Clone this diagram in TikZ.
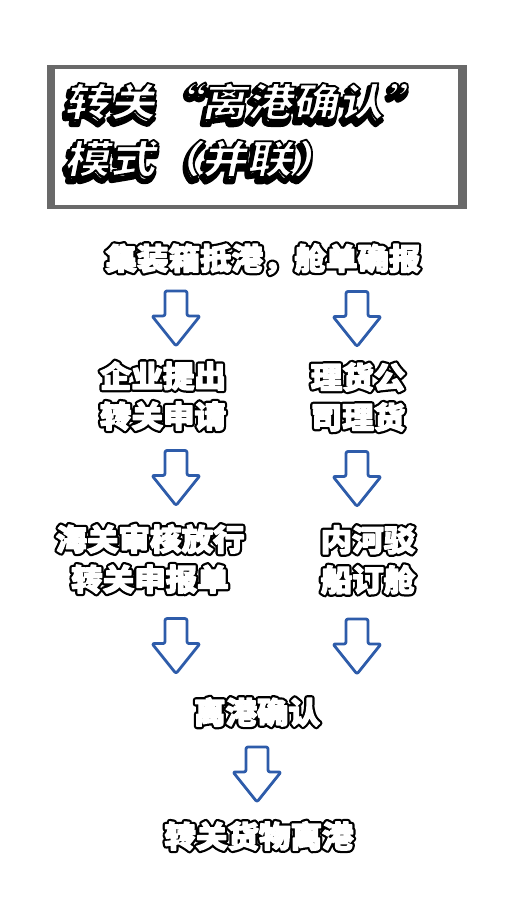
\documentclass[tikz,border=0pt]{standalone}
\usepackage{fontspec}
\usetikzlibrary{calc}
\newfontfamily\cjkbody{Noto Sans CJK SC}[FakeStretch=1.05]
\newfontfamily\cjktitle{Noto Sans CJK SC}[FakeSlant=0.2,FakeStretch=1.17]
\definecolor{arrowblue}{RGB}{46,92,170}
\definecolor{framegray}{RGB}{105,105,105}

\tikzset{
  steptext/.style={font=\cjkbody\bfseries\fontsize{30}{40}\selectfont, align=center, inner sep=0pt},
  titletext/.style={font=\cjktitle\bfseries\fontsize{39}{57}\selectfont, align=left, inner sep=0pt, anchor=west},
  arrowline/.style={draw=arrowblue, line width=2.8pt, rounded corners=2pt, line join=round},
  blockdown/.pic={\draw[arrowline] (-11,-27) -- (11,-27) -- (11,-2) -- (24,-2) -- (0,28) -- (-24,-2) -- (-11,-2) -- cycle;}
}

% glyph outlines: #1 stroke grey, #2 width, #3 render mode
\newcommand\penon[3]{\special{pdf:literal direct #1 G 1 j #2 w #3 Tr}}
\newcommand\penoff{\special{pdf:literal direct 0 Tr}}

% white letters with a black rim
\newcommand\rimnode[4]{%
  \path (#2) node[#3, text=black] {\penon{0}{5.8}{1}#4\penoff};
  \path (#2) node[#3, text=white] (#1) {\penon{1}{1.3}{2}#4\penoff};
}

% white letters with a rim and a deep shadow
\newcommand\shadownode[4]{%
  \path ([shift={(-2,4.5)}]#2) node[#3, text=black] {\penon{0}{5.5}{1}#4\penoff};
  \path (#2) node[#3, text=white] (#1) {\penon{0}{1.8}{2}#4\penoff};
}

\begin{document}
\begin{tikzpicture}[x=1pt, y=-1pt]

\fill[white] (0,0) rectangle (512,912);
\useasboundingbox (0,0) rectangle (512,912);

% Title frame
\fill[framegray] (47,65) rectangle (467,209);
\fill[white] (55,69) rectangle (458,205);

% Title
\shadownode{title}{64,130}{titletext}{转关“离港确认”\\模式（并联）}


% Columns
\coordinate (colL) at (176,0);
\coordinate (colR) at (357,0);
\coordinate (colM) at (257,0);


% Start
\rimnode{start}{263,259}{steptext}{集装箱抵港，舱单确报}

% Left branch
\rimnode{apply}{163,396}{steptext}{企业提出\\转关申请}
\rimnode{release}{150,559}{steptext}{海关审核放行\\转关申报单}

% Right branch
\rimnode{tally}{358,397}{steptext}{理货公\\司理货}
\rimnode{barge}{368,560}{steptext}{内河驳\\船订舱}

% Joined again
\rimnode{confirm}{257,712}{steptext}{离港确认}
\rimnode{depart}{259,836}{steptext}{转关货物离港}


% Blue arrows down
\path ($(colL |- start.south)!0.5!(colL |- apply.north)$) pic {blockdown};
\path ($(colR |- start.south)!0.5!(colR |- tally.north)$) pic {blockdown};

\path ($(colL |- apply.south)!0.5!(colL |- release.north)$) pic {blockdown};
\path ($(colR |- tally.south)!0.5!(colR |- barge.north)$) pic {blockdown};

\path ($(colL |- release.south)!0.5!(colL |- confirm.north)$) pic {blockdown};
\path ($(colR |- barge.south)!0.5!(colR |- confirm.north)$) pic {blockdown};

\path ($(colM |- confirm.south)!0.5!(colM |- depart.north)$) pic {blockdown};

\end{tikzpicture}
\end{document}
